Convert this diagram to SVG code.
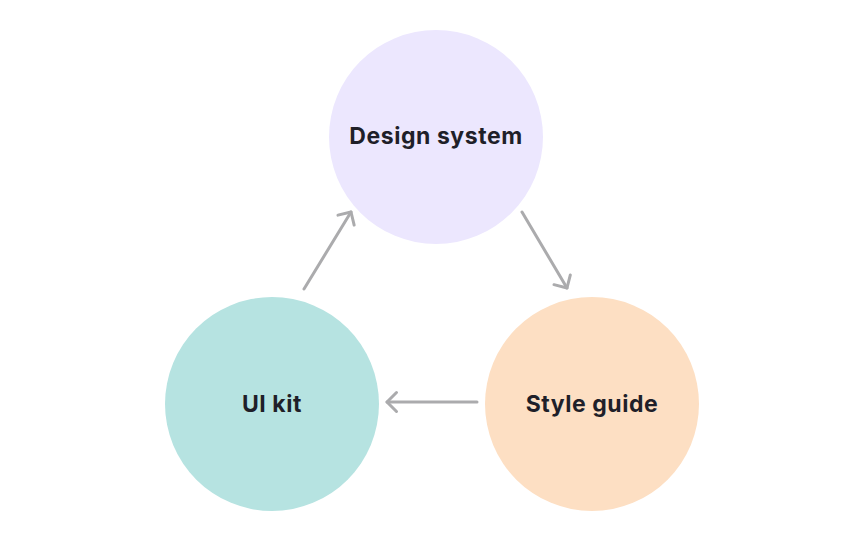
<svg xmlns="http://www.w3.org/2000/svg" width="864" height="540" viewBox="0 0 864 540">
<defs>
<style>
.lbl{font-family:Inter,"Noto Sans","Liberation Sans",sans-serif;font-weight:700;font-size:23px;letter-spacing:0.55px;fill:#1f1f29;text-anchor:middle}
.conn{stroke:#ababad;stroke-width:3;stroke-linecap:round;fill:none}
</style>
<marker id="arr" markerUnits="userSpaceOnUse" viewBox="-14 -14 28 28" markerWidth="28" markerHeight="28" refX="0" refY="0" orient="auto" overflow="visible">
<path d="M -9.5,-9.5 L 0,0 L -9.5,9.5" fill="none" stroke="#ababad" stroke-width="3" stroke-linecap="round" stroke-linejoin="round"/>
</marker>
</defs>
<rect width="864" height="540" fill="#ffffff"/>
<g id="connectors">
<line class="conn" x1="304" y1="289" x2="351" y2="212" marker-end="url(#arr)"/>
<line class="conn" x1="522" y1="212" x2="567" y2="288" marker-end="url(#arr)"/>
<line class="conn" x1="477" y1="402" x2="387" y2="402" marker-end="url(#arr)"/>
</g>
<g id="design-system">
<circle cx="436" cy="137" r="107" fill="#ece7fe"/>
<text class="lbl" x="436" y="144">Design system</text>
</g>
<g id="ui-kit">
<circle cx="272" cy="404" r="107" fill="#b6e3e1"/>
<text class="lbl" x="272" y="412">UI kit</text>
</g>
<g id="style-guide">
<circle cx="592" cy="404" r="107" fill="#fddfc3"/>
<text class="lbl" x="592" y="412">Style guide</text>
</g>
</svg>
